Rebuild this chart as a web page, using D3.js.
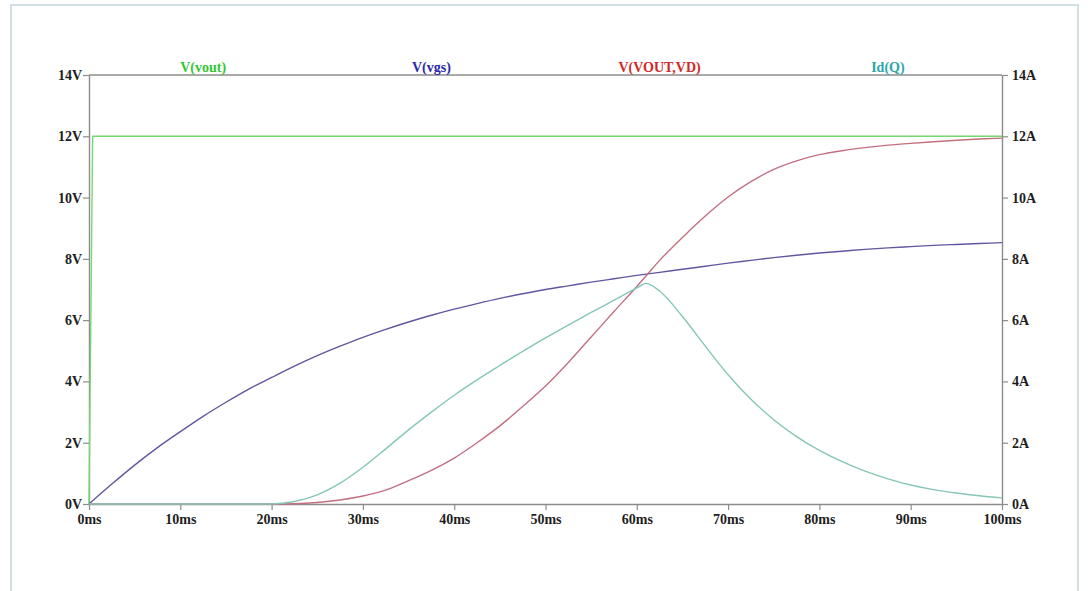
<!DOCTYPE html>
<html>
<head>
<meta charset="utf-8">
<script src="https://cdn.jsdelivr.net/npm/d3@7"></script>
<style>
  html, body { margin: 0; padding: 0; background: #ffffff; }
  svg { display: block; }
  text { font-family: "Liberation Serif", "Times New Roman", serif; font-weight: bold; }
</style>
</head>
<body>
<svg id="chart" width="1088" height="591"></svg>
<script>
// Transient simulation traces (time in ms)
const timeMs = [0, 2.5, 5, 7.5, 10, 12.5, 15, 17.5, 20, 22.5, 25, 27.5, 30, 32.5, 35, 37.5, 40,
  42.5, 45, 47.5, 50, 52.5, 55, 57.5, 60, 61, 62.5, 65, 67.5, 70, 72.5, 75, 77.5, 80,
  82.5, 85, 87.5, 90, 92.5, 95, 97.5, 100];

// V(vgs) in volts
const vgs = [0, 0.65, 1.27, 1.84, 2.36, 2.86, 3.32, 3.75, 4.13, 4.5, 4.84, 5.15, 5.44, 5.7, 5.94, 6.16, 6.36,
  6.54, 6.71, 6.86, 7.0, 7.12, 7.24, 7.35, 7.46, 7.5, 7.56, 7.66, 7.76, 7.86, 7.95, 8.04, 8.12, 8.19,
  8.25, 8.31, 8.36, 8.40, 8.44, 8.47, 8.50, 8.53];

// V(VOUT,VD) in volts
const vds = [0, 0, 0, 0, 0, 0, 0, 0, 0, 0.01, 0.05, 0.13, 0.26, 0.45, 0.76, 1.1, 1.5,
  2.0, 2.55, 3.18, 3.85, 4.62, 5.45, 6.28, 7.1, 7.44, 7.95, 8.7, 9.4, 10.02, 10.52, 10.92, 11.2, 11.4,
  11.53, 11.63, 11.71, 11.77, 11.82, 11.87, 11.91, 11.94];

// Id(Q) in amperes
const idQ = [0, 0, 0, 0, 0, 0, 0, 0, 0, 0.08, 0.3, 0.68, 1.2, 1.8, 2.42, 3.0, 3.55,
  4.05, 4.52, 4.98, 5.42, 5.84, 6.25, 6.65, 7.05, 7.2, 6.95, 6.12, 5.15, 4.22, 3.42, 2.75, 2.2, 1.75,
  1.38, 1.07, 0.82, 0.62, 0.47, 0.36, 0.27, 0.2];

// V(vout): steps to the supply right after t = 0
const voutTime = [0, 0.4, 100];
const vout = [0, 12, 12];

const leftTicks = [0, 2, 4, 6, 8, 10, 12, 14];
const rightTicks = [0, 2, 4, 6, 8, 10, 12, 14];
const timeTicks = [0, 10, 20, 30, 40, 50, 60, 70, 80, 90, 100];
const traceNames = ["V(vout)", "V(vgs)", "V(VOUT,VD)", "Id(Q)"];

const labelColors = ["#33c633", "#2a2aa8", "#d42828", "#2aa8a8"];
const lineColors = ["#74d874", "#62569f", "#c27080", "#86c6b8"];

const svg = d3.select("#chart");
const margin = { left: 89, right: 1002, top: 75, bottom: 504 };

// outer panel border
svg.append("rect")
  .attr("x", 11).attr("y", 5)
  .attr("width", 1067).attr("height", 600)
  .attr("fill", "none")
  .attr("stroke", "#d3dee4")
  .attr("stroke-width", 2);

const x = d3.scaleLinear().domain([0, 100]).range([margin.left, margin.right]);
const yV = d3.scaleLinear().domain([0, 14]).range([margin.bottom, margin.top]);
const yA = d3.scaleLinear().domain([0, 14]).range([margin.bottom, margin.top]);

const axisColor = "#8c8c8c";
const textColor = "#1e1e1e";

function styleAxis(g) {
  g.select(".domain").attr("stroke", axisColor).attr("stroke-width", 1.4);
  g.selectAll(".tick line").attr("stroke", axisColor).attr("stroke-width", 1.2);
  g.selectAll(".tick text").attr("fill", textColor)
    .style("font-size", "14px").style("font-family", "'Liberation Serif', serif").style("font-weight", "bold");
}

// top frame line
svg.append("line")
  .attr("x1", margin.left).attr("x2", margin.right)
  .attr("y1", margin.top).attr("y2", margin.top)
  .attr("stroke", axisColor).attr("stroke-width", 1.4);

svg.append("g")
  .attr("transform", `translate(0,${margin.bottom})`)
  .call(d3.axisBottom(x).tickValues(timeTicks).tickSize(6).tickSizeOuter(0).tickPadding(4)
    .tickFormat(d => d + "ms"))
  .call(styleAxis);

svg.append("g")
  .attr("transform", `translate(${margin.left},0)`)
  .call(d3.axisLeft(yV).tickValues(leftTicks).tickSize(6).tickSizeOuter(0).tickPadding(1)
    .tickFormat(d => d + "V"))
  .call(styleAxis);

svg.append("g")
  .attr("transform", `translate(${margin.right},0)`)
  .call(d3.axisRight(yA).tickValues(rightTicks).tickSize(6).tickSizeOuter(0).tickPadding(4)
    .tickFormat(d => d + "A"))
  .call(styleAxis);

// trace labels along the top
const labelX = d3.scalePoint().domain(traceNames).range([x(12.5), x(87.5)]);
svg.append("g").selectAll("text")
  .data(traceNames)
  .join("text")
  .attr("x", d => labelX(d))
  .attr("y", 72)
  .attr("text-anchor", "middle")
  .attr("fill", (d, i) => labelColors[i])
  .style("font-size", "14px")
  .text(d => d);

// traces
const lineV = d3.line().x(d => x(d[0])).y(d => yV(d[1])).curve(d3.curveMonotoneX);
const lineA = d3.line().x(d => x(d[0])).y(d => yA(d[1])).curve(d3.curveMonotoneX);

const traces = [
  { pts: d3.zip(voutTime, vout), gen: d3.line().x(d => x(d[0])).y(d => yV(d[1])), color: lineColors[0] },
  { pts: d3.zip(timeMs, vgs), gen: lineV, color: lineColors[1] },
  { pts: d3.zip(timeMs, vds), gen: lineV, color: lineColors[2] },
  { pts: d3.zip(timeMs, idQ), gen: lineA, color: lineColors[3] }
];

svg.append("g").selectAll("path")
  .data(traces)
  .join("path")
  .attr("d", t => t.gen(t.pts))
  .attr("fill", "none")
  .attr("stroke", t => t.color)
  .attr("stroke-width", 1.4);
</script>
</body>
</html>
